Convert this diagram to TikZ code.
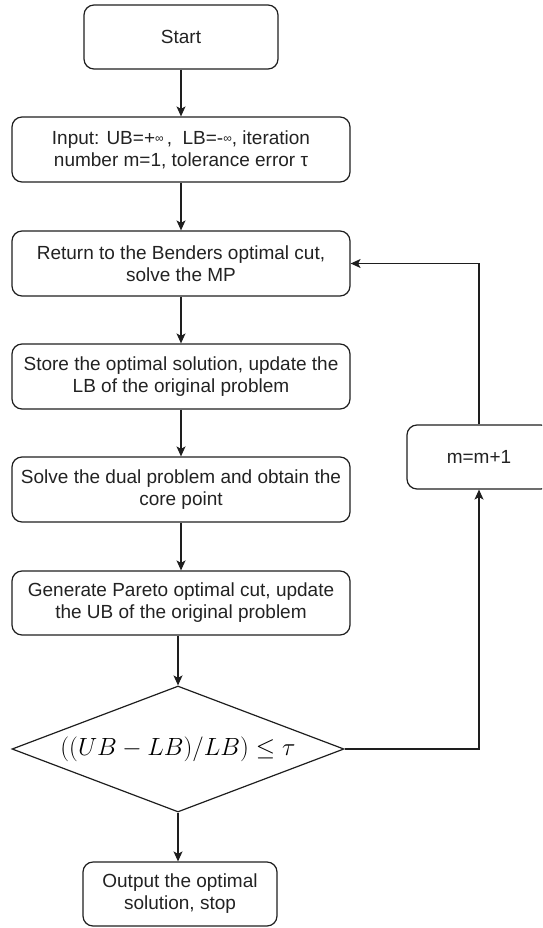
\documentclass[tikz,border=0pt]{standalone}
\usepackage{fontspec}
\setmainfont{Liberation Sans}
\usetikzlibrary{arrows.meta,shapes.geometric}

\definecolor{linec}{HTML}{1E1E1E}
\definecolor{textc}{HTML}{222222}
\newcommand{\smallinf}{\raisebox{1.5pt}{\fontsize{12}{12}\selectfont ∞}}

\begin{document}
\begin{tikzpicture}[x=1pt,y=-1pt,
  stepbox/.style={draw=linec, line width=1.2pt, rounded corners=10pt,
    minimum height=64pt, align=center, text=textc, inner sep=0pt,
    font=\fontsize{19}{22}\selectfont},
  wide/.style={stepbox, minimum width=338pt},
  narrow/.style={stepbox, minimum width=194pt},
  decision/.style={draw=linec, line width=1.2pt, shape=diamond, shape aspect=2.6,
    minimum width=332pt, minimum height=126pt, inner sep=0pt, text=black,
    font=\fontsize{23.5}{28}\selectfont},
  arr/.style={draw=linec, line width=1.2pt,
    -{Stealth[length=10pt,width=9pt,inset=2.5pt]}}]

\useasboundingbox (0,0) rectangle (542,928);
\clip (0,0) rectangle (542,928);

% main column
\node[narrow] (start) at (181,37) {Start};
\node[wide, minimum height=65pt] (input) at (181,149.5)
  {Input: UB=+\smallinf\,,\ \ LB=-\smallinf, iteration\\number m=1, tolerance error τ};
\node[wide, minimum height=65pt] (ret) at (181,263.5)
  {Return to the Benders optimal cut,\\solve the MP};
\node[wide, minimum height=65pt] (store) at (181,376.5)
  {Store the optimal solution, update the\\LB of the original problem};
\node[wide, minimum height=65pt] (dual) at (181,489.5)
  {Solve the dual problem and obtain the\\core point};
\node[wide] (gen) at (181,603)
  {Generate Pareto optimal cut, update\\the UB of the original problem};
\node[decision] (dia) at (178,749) {$((UB-LB)/LB)\leq\tau$};
\node[narrow] (out) at (180,894) {Output the optimal\\solution, stop};

% loop-back step
\node[stepbox, minimum width=144pt] (inc) at (479,457) {m=m+1};

% connectors
\draw[arr] (start) -- (input);
\draw[arr] (input) -- (ret);
\draw[arr] (ret) -- (store);
\draw[arr] (store) -- (dual);
\draw[arr] (dual) -- (gen);
\draw[arr] (dia.north |- gen.south) -- (dia.north);
\draw[arr] (dia.south) -- (dia.south |- out.north);
\draw[arr] (dia.east) -| (inc.south);
\draw[arr] (inc.north) |- (ret.east);
\end{tikzpicture}
\end{document}
